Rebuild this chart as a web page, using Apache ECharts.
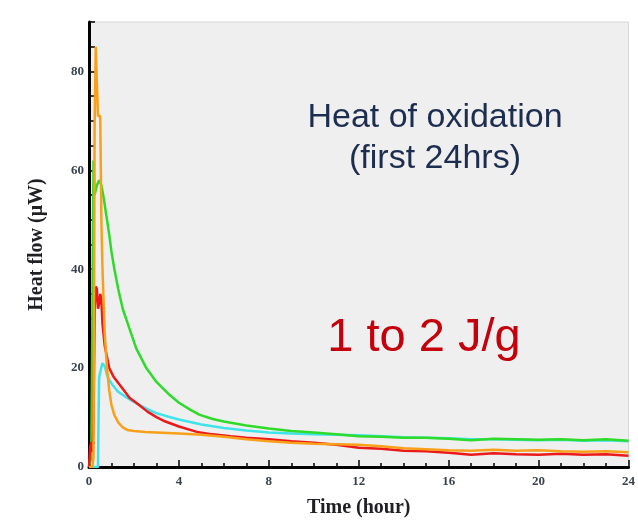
<!DOCTYPE html>
<html>
<head>
<meta charset="utf-8">
<script src="https://cdn.jsdelivr.net/npm/echarts@6/dist/echarts.min.js"></script>
<style>
  html, body { margin: 0; padding: 0; background: #ffffff; }
  #chart { width: 638px; height: 523px; }
</style>
</head>
<body>
<div id="chart"></div>
<script>
// Isothermal calorimetry traces: heat flow (µW) against time (hours), one array per sample
var timeTicks = [0, 4, 8, 12, 16, 20, 24];
var heatTicks = [0, 20, 40, 60, 80];

var cyanTrace = [
  [0, 0], [0.4, 0], [0.42, 8], [0.45, 18], [0.5, 19.2], [0.6, 21], [0.7, 20.4],
  [0.8, 18.6], [0.9, 17.6], [1.05, 16.6], [1.3, 15.2], [1.65, 14.1], [1.9, 13.4],
  [2.3, 12.4], [2.6, 11.7], [3, 10.9], [3.5, 10.2], [4, 9.6], [4.5, 9.1], [5, 8.6],
  [6, 7.9], [7, 7.4], [8, 7.0], [9, 6.8], [10, 6.6], [11, 6.5], [12, 6.4],
  [13, 6.2], [14, 6.0], [15, 5.9], [16, 5.8], [17, 5.6], [18, 5.6], [19, 5.5],
  [20, 5.4], [21, 5.5], [22, 5.3], [23, 5.4], [24, 5.2]
];

var greenTrace = [
  [0, 0], [0.1, 2], [0.15, 30], [0.2, 62], [0.25, 55], [0.35, 57], [0.45, 58],
  [0.55, 57], [0.65, 54.5], [0.8, 50], [0.9, 47], [1.0, 43.5], [1.13, 40],
  [1.3, 36], [1.5, 32], [1.8, 28], [2.1, 24], [2.55, 20], [3, 17.2], [3.58, 14.6],
  [4, 13], [4.5, 11.6], [4.9, 10.6], [5.5, 9.7], [6, 9.2], [7, 8.4], [8, 7.8],
  [9, 7.3], [10, 7.0], [11, 6.6], [12, 6.2], [13, 6.1], [14, 5.9], [15, 5.9],
  [16, 5.7], [17, 5.4], [18, 5.7], [19, 5.6], [20, 5.5], [21, 5.6], [22, 5.4],
  [23, 5.6], [24, 5.3]
];

var redTrace = [
  [0, 0], [0.05, 4], [0.1, 5], [0.15, 3], [0.2, 8], [0.25, 32], [0.3, 36.5],
  [0.35, 36], [0.4, 32], [0.45, 33], [0.5, 35], [0.55, 34], [0.6, 29], [0.7, 24.5],
  [0.9, 20], [1.1, 18.2], [1.44, 16.2], [1.8, 14], [2.1, 13], [2.6, 11.2], [3, 10.1],
  [3.4, 9.2], [4, 8.2], [4.8, 7.1], [5.5, 6.6], [6.3, 6.2], [7, 5.9], [8, 5.6],
  [9, 5.2], [10, 4.9], [11, 4.5], [12, 3.9], [13, 3.7], [14, 3.3], [15, 3.2],
  [16, 2.9], [17, 2.5], [18, 2.8], [19, 2.6], [20, 2.5], [21, 2.7], [22, 2.5],
  [23, 2.6], [24, 2.3]
];

var orangeTrace = [
  [0, 0], [0.15, 0], [0.2, 2], [0.25, 69], [0.3, 85], [0.37, 85], [0.4, 71],
  [0.5, 71], [0.55, 50], [0.6, 40], [0.7, 27], [0.8, 20], [0.9, 15.5], [1.0, 12.5],
  [1.13, 10.5], [1.3, 9], [1.5, 8], [1.7, 7.5], [2, 7.3], [2.5, 7.1], [3, 7],
  [4, 6.8], [5, 6.5], [6, 6.1], [7, 5.6], [8, 5.2], [9, 4.9], [10, 4.7], [11, 4.6],
  [12, 4.5], [13, 4.2], [14, 3.8], [15, 3.6], [16, 3.4], [17, 3.3], [18, 3.5],
  [19, 3.3], [20, 3.4], [21, 3.2], [22, 3.1], [23, 3.2], [24, 3.0]
];

var serif = "'Liberation Serif', 'Times New Roman', serif";
var sans = "'Liberation Sans', Arial, sans-serif";

function trace(data, color) {
  return {
    type: 'line',
    data: data,
    showSymbol: false,
    symbol: 'none',
    lineStyle: { color: color, width: 2.5 },
    animation: false
  };
}

function note(text, x, y, size, color) {
  return {
    type: 'text', x: x, y: y,
    style: {
      text: text,
      align: 'center', verticalAlign: 'middle',
      font: size + 'px ' + sans, fill: color
    }
  };
}

var chart = echarts.init(document.getElementById('chart'));
chart.setOption({
  animation: false,
  backgroundColor: '#ffffff',
  grid: {
    left: 89, right: 9, top: 22, bottom: 51,
    show: true,
    backgroundColor: '#efefef',
    borderColor: '#d6d6d6',
    borderWidth: 1
  },
  xAxis: {
    type: 'value',
    min: timeTicks[0],
    max: timeTicks[timeTicks.length - 1],
    interval: timeTicks[1] - timeTicks[0],
    name: 'Time (hour)',
    nameLocation: 'middle',
    nameGap: 31,
    nameTextStyle: { fontFamily: serif, fontWeight: 'bold', fontSize: 20, color: '#1f1f24' },
    axisLine: { lineStyle: { color: '#000', width: 3 } },
    axisTick: { inside: true, length: 7, lineStyle: { color: '#000', width: 1.5 } },
    minorTick: { show: true, splitNumber: 4, length: 4, lineStyle: { color: '#000', width: 1.5 } },
    axisLabel: { fontFamily: serif, fontWeight: 'bold', fontSize: 13, color: '#3a424d', margin: 8 },
    splitLine: { show: false }
  },
  yAxis: {
    type: 'value',
    min: heatTicks[0],
    max: 90,
    interval: 10,
    name: 'Heat flow (\u03bcW)',
    nameLocation: 'middle',
    nameGap: 42,
    nameTextStyle: { fontFamily: serif, fontWeight: 'bold', fontSize: 20, color: '#1f1f24' },
    axisLine: { lineStyle: { color: '#000', width: 3 } },
    axisTick: { inside: true, length: 6, lineStyle: { color: '#000', width: 1.5 } },
    minorTick: { show: true, splitNumber: 2, length: 6, lineStyle: { color: '#000', width: 1.5 } },
    axisLabel: {
      fontFamily: serif, fontWeight: 'bold', fontSize: 13, color: '#3a424d', margin: 5,
      formatter: function (v) { return heatTicks.indexOf(v) >= 0 ? String(v) : ''; }
    },
    splitLine: { show: false }
  },
  series: [
    trace(cyanTrace, '#3fe4ea'),
    trace(greenTrace, '#2fdb2a'),
    trace(redTrace, '#ea1a1a'),
    trace(orangeTrace, '#f9a01b')
  ],
  graphic: [
    note('Heat of oxidation', 435, 118, 34, '#1c2d4f'),
    note('(first 24hrs)', 435, 159, 34, '#1c2d4f'),
    note('1 to 2 J/g', 424, 338, 47, '#c4000c')
  ]
});
</script>
</body>
</html>
